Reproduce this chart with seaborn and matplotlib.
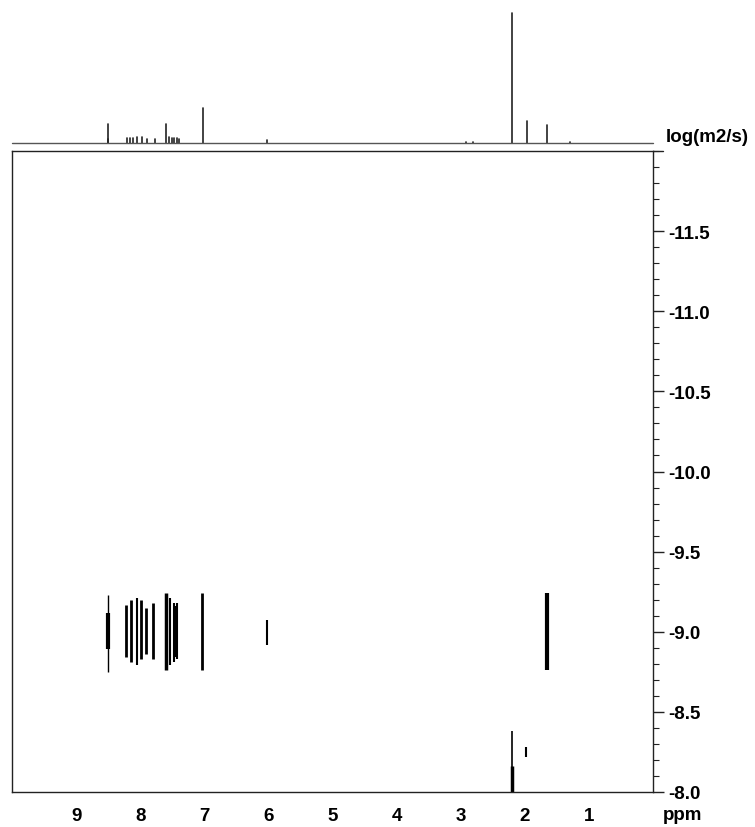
import numpy as np
import pandas as pd
import matplotlib
matplotlib.use("Agg")
import matplotlib.pyplot as plt
from matplotlib.ticker import MultipleLocator, FixedLocator
import seaborn as sns

sns.set_style("white")
plt.rcParams['font.family'] = ['Liberation Sans', 'DejaVu Sans']
plt.rcParams['font.weight'] = 'bold'
plt.rcParams['text.color'] = 'black'
plt.rcParams['xtick.color'] = 'black'
plt.rcParams['ytick.color'] = 'black'

# ---- 1D projection (stick peaks): chemical shift (ppm) and relative height
proj_ppm = [8.51, 8.50, 8.21, 8.16, 8.11, 8.05, 7.97, 7.89, 7.77,
            7.60, 7.55, 7.51, 7.47, 7.43, 7.39, 7.02, 6.02,
            2.92, 2.81, 2.20, 1.97, 1.65, 1.30]
proj_height = [0.03, 0.15, 0.035, 0.04, 0.04, 0.045, 0.045, 0.03, 0.03,
               0.146, 0.05, 0.04, 0.035, 0.035, 0.03, 0.27, 0.02,
               0.008, 0.008, 1.0, 0.17, 0.14, 0.005]

# ---- DOSY streaks: ppm, log D upper end, log D lower end, stroke width
dosy_ppm = [8.50, 8.51, 8.22, 8.15, 8.05, 7.99, 7.91, 7.80,
            7.60, 7.53, 7.48, 7.45, 7.42, 7.46, 7.03, 6.02,
            1.65, 2.20, 2.20, 1.98]
dosy_top = [-9.23, -9.12, -9.17, -9.20, -9.21, -9.20, -9.15, -9.18,
            -9.24, -9.21, -9.18, -9.16, -9.18, -9.10, -9.24, -9.075,
            -9.24, -8.38, -8.16, -8.28]
dosy_bottom = [-8.75, -8.89, -8.84, -8.81, -8.79, -8.83, -8.86, -8.83,
               -8.76, -8.79, -8.81, -8.84, -8.83, -8.90, -8.76, -8.92,
               -8.76, -7.95, -7.95, -8.22]
dosy_lw = [1.0, 3.0, 2.0, 2.0, 1.5, 2.0, 2.0, 2.0,
           2.5, 1.5, 1.5, 1.5, 1.5, 3.5, 2.0, 1.5,
           3.0, 1.2, 2.5, 1.5]

x_major = [9, 8, 7, 6, 5, 4, 3, 2, 1]
y_major = [-11.5, -11.0, -10.5, -10.0, -9.5, -9.0, -8.5, -8.0]

W, H = 755, 828
FS = 13.5
fig = plt.figure(figsize=(W / 100, H / 100), dpi=100)

def fx(px):
    return px / W

def fy(py):
    return 1 - py / H

ax = fig.add_axes([fx(12), fy(793), fx(653) - fx(12), fy(152) - fy(793)])
axt = fig.add_axes([fx(12), fy(144), fx(653) - fx(12), fy(7) - fy(144)], sharex=ax)

# 2D DOSY
rows = []
for i, (p, t, b, w) in enumerate(zip(dosy_ppm, dosy_top, dosy_bottom, dosy_lw)):
    rows.append(dict(id=i, ppm=p, logD=t, lw=w))
    rows.append(dict(id=i, ppm=p, logD=b, lw=w))
df2 = pd.DataFrame(rows)
sns.lineplot(data=df2, x='ppm', y='logD', units='id', estimator=None, sort=False,
             size='lw', sizes={v: v for v in sorted(set(dosy_lw))},
             color='black', legend=False, ax=ax, solid_capstyle='butt')

ax.set_xlim(10, 0)
ax.set_ylim(-8.0, -12.0)
ax.set_xlabel('')
ax.set_ylabel('')
ax.xaxis.set_major_locator(FixedLocator(x_major))
ax.xaxis.set_minor_locator(MultipleLocator(0.1))
ax.set_xticklabels([str(v) for v in x_major])
ax.yaxis.tick_right()
ax.yaxis.set_major_locator(FixedLocator(y_major))
ax.yaxis.set_minor_locator(MultipleLocator(0.1))
ax.set_yticklabels([f"{v:.1f}" for v in y_major])
ax.tick_params(axis='both', which='major', direction='out', length=8, width=1,
               labelsize=FS, color='#222222', labelcolor='black')
ax.tick_params(axis='both', which='minor', direction='out', length=4, width=0.8,
               color='#222222')
ax.tick_params(axis='x', which='major', pad=3)
ax.tick_params(axis='y', which='major', pad=3)
for lab in ax.get_xticklabels() + ax.get_yticklabels():
    lab.set_fontweight('bold')
for s in ax.spines.values():
    s.set_visible(True)
    s.set_color('#222222')
    s.set_linewidth(1.0)
# extension of the top frame line to the right
ax.plot([1.0, 1.015], [1.0, 1.0], transform=ax.transAxes, color='#222222',
        lw=1.0, clip_on=False)

fig.text(fx(663), fy(816), 'ppm', fontsize=FS, fontweight='bold',
         ha='left', va='center', color='black')

# 1D projection
rows = []
for i, (p, h) in enumerate(zip(proj_ppm, proj_height)):
    rows.append(dict(id=i, ppm=p, I=0.0))
    rows.append(dict(id=i, ppm=p, I=h))
df1 = pd.DataFrame(rows)
sns.lineplot(data=df1, x='ppm', y='I', units='id', estimator=None, sort=False,
             color='#222222', lw=1.2, legend=False, ax=axt)
axt.axhline(0, color='#555555', lw=1.0, clip_on=False)
axt.set_ylim(0, 1.0 * 137 / 130)
axt.set_xlim(10, 0)
axt.axis('off')

fig.text(fx(666), fy(138), 'log(m2/s)', fontsize=FS, fontweight='bold',
         ha='left', va='center', color='black')

fig.savefig('out.png', dpi=100)
